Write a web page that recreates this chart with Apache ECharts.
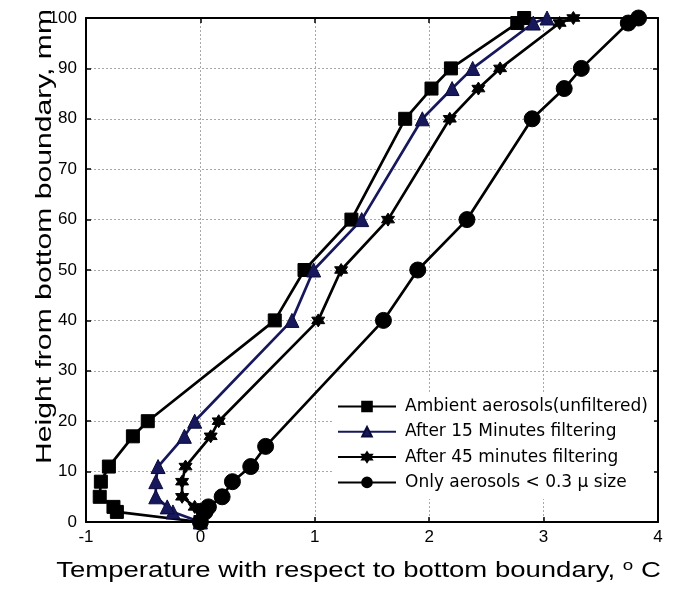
<!DOCTYPE html>
<html>
<head>
<meta charset="utf-8">
<script src="https://cdn.jsdelivr.net/npm/echarts@6/dist/echarts.min.js"></script>
<style>html,body{margin:0;padding:0;background:#fff}#c{width:673px;height:590px}</style>
</head>
<body>
<div id="c"></div>
<script>
// ---- data ----
const seriesNames = [
  'Ambient aerosols(unfiltered)',
  'After 15 Minutes filtering',
  'After 45 minutes filtering',
  'Only aerosols < 0.3 \u03bc size'
];
const ambientHeight = [0, 2, 3, 5, 8, 11, 17, 20, 40, 50, 60, 80, 86, 90, 99, 100];
const ambientTemp   = [0, -0.73, -0.76, -0.88, -0.87, -0.80, -0.59, -0.46, 0.65, 0.91, 1.32, 1.79, 2.02, 2.19, 2.77, 2.83];
const min15Height   = [0, 2, 3, 5, 8, 11, 17, 20, 40, 50, 60, 80, 86, 90, 99, 100];
const min15Temp     = [0, -0.24, -0.29, -0.39, -0.39, -0.37, -0.14, -0.05, 0.80, 0.99, 1.41, 1.94, 2.20, 2.38, 2.91, 3.03];
const min45Height   = [0, 3, 5, 8, 11, 17, 20, 40, 50, 60, 80, 86, 90, 99, 100];
const min45Temp     = [0, -0.05, -0.16, -0.16, -0.13, 0.09, 0.16, 1.03, 1.23, 1.64, 2.18, 2.43, 2.62, 3.14, 3.26];
const smallHeight   = [0, 2, 3, 5, 8, 11, 15, 40, 50, 60, 80, 86, 90, 99, 100];
const smallTemp     = [0, 0.04, 0.07, 0.19, 0.28, 0.44, 0.57, 1.60, 1.90, 2.33, 2.90, 3.18, 3.33, 3.74, 3.83];
const xTicks = [-1, 0, 1, 2, 3, 4];
const yTicks = [0, 10, 20, 30, 40, 50, 60, 70, 80, 90, 100];
const yTitle = 'Height from bottom boundary, mm';
const xTitle = 'Temperature with respect to bottom boundary, {s|o} C';

function pairs(xs, ys) { return xs.map((x, i) => [x, ys[i]]); }

const FONT = '"Liberation Sans", Arial, sans-serif';
const LFONT = '"DejaVu Sans", sans-serif';
const STAR = 'path://M0,-10 L2.9,-5 L8.7,-5 L5.8,0 L8.7,5 L2.9,5 L0,10 L-2.9,5 L-8.7,5 L-5.8,0 L-8.7,-5 L-2.9,-5 Z';
const NAVY = '#17185c';

const chart = echarts.init(document.getElementById('c'), null, {renderer: 'canvas'});
const gridLine = {show: true, lineStyle: {color: '#a8a8a8', width: 1, type: [2, 2]}};
const axLine = {show: true, onZero: false, lineStyle: {color: '#000', width: 2}};
const tick = {show: true, inside: true, length: 5, lineStyle: {color: '#000', width: 1.5}};

function mk(name, data, symbol, size, color, border) {
  return {
    name: name, type: 'line', data: data, symbol: symbol, symbolSize: size,
    xAxisIndex: 0, yAxisIndex: 0,
    lineStyle: {color: color, width: 2.7},
    itemStyle: {color: color, borderColor: border || color, borderWidth: 1},
    emphasis: {disabled: true}, animation: false, z: 3
  };
}

chart.setOption({
  animation: false,
  grid: {left: 86, right: 15, top: 18, bottom: 68, containLabel: false},
  xAxis: [
    {type: 'value', min: xTicks[0], max: xTicks[xTicks.length - 1], interval: 1,
     axisLine: axLine, axisTick: tick,
     axisLabel: {color: '#000', fontSize: 17, fontFamily: FONT, margin: 7},
     splitLine: gridLine},
    {type: 'value', position: 'top', min: xTicks[0], max: xTicks[xTicks.length - 1], interval: 1,
     axisLine: axLine, axisTick: tick, axisLabel: {show: false}, splitLine: {show: false}}
  ],
  yAxis: [
    {type: 'value', min: yTicks[0], max: yTicks[yTicks.length - 1], interval: 10,
     axisLine: axLine, axisTick: tick,
     axisLabel: {color: '#000', fontSize: 17, fontFamily: FONT, margin: 9},
     splitLine: gridLine},
    {type: 'value', position: 'right', min: yTicks[0], max: yTicks[yTicks.length - 1], interval: 10,
     axisLine: axLine, axisTick: tick, axisLabel: {show: false}, splitLine: {show: false}}
  ],
  legend: {
    orient: 'vertical', left: 333, top: 394,
    backgroundColor: '#fff', padding: [4, 6, 8, 4],
    itemWidth: 58, itemHeight: 12, itemGap: 8.3,
    textStyle: {color: '#000', fontSize: 17, lineHeight: 17, fontFamily: LFONT, padding: [0, 0, 0, 4]},
    data: seriesNames.map(n => ({name: n})),
    selectedMode: false, z: 10
  },
  series: [
    mk(seriesNames[0], pairs(ambientTemp, ambientHeight), 'rect', 13, '#000'),
    mk(seriesNames[1], pairs(min15Temp, min15Height), 'triangle', 14, NAVY, '#0a0a3a'),
    mk(seriesNames[2], pairs(min45Temp, min45Height), STAR, 13, '#000'),
    mk(seriesNames[3], pairs(smallTemp, smallHeight), 'circle', 16, '#000')
  ],
  graphic: [
    {type: 'text', x: 45, y: 236.5, rotation: Math.PI / 2, scaleX: 1.37, scaleY: 1, z: 20,
     style: {text: yTitle, font: '22px ' + FONT, fill: '#000',
             textAlign: 'center', textVerticalAlign: 'middle'}},
    {type: 'text', x: 358.5, y: 570.5, scaleX: 1.25, scaleY: 1, z: 20,
     style: {text: xTitle, font: '22px ' + FONT, fill: '#000',
             textAlign: 'center', textVerticalAlign: 'middle',
             rich: {s: {fontSize: 15, fontFamily: FONT, verticalAlign: 'top', padding: [0, 0, 10, 0]}}}}
  ]
});
</script>
</body>
</html>
